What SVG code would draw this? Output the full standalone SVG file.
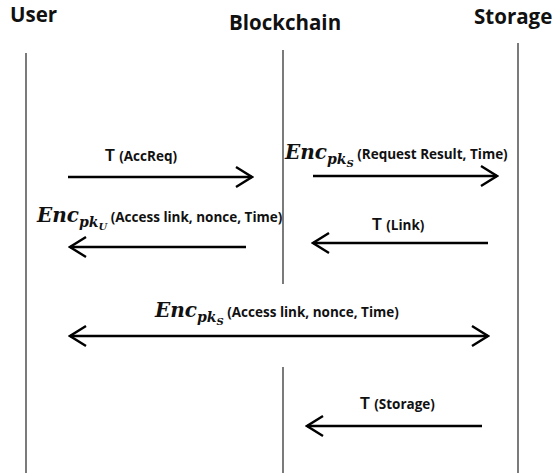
<svg xmlns="http://www.w3.org/2000/svg" width="559" height="473" viewBox="0 0 559 473">
<style>
.hd{font-family:"Open Sans","Liberation Sans",sans-serif;font-weight:bold;font-size:20.5px;fill:#111}
.lf{stroke:#333;stroke-width:1.3;fill:none}
.ar{stroke:#000;stroke-width:2.4;fill:none}
.t{font-family:"Liberation Sans",sans-serif;font-weight:bold;font-size:16px;fill:#111}
.s{font-family:"Open Sans","Liberation Sans",sans-serif;font-weight:bold;font-size:13.5px;fill:#111}
.e{font-family:"DejaVu Serif",serif;font-weight:bold;font-style:italic;font-size:20px;fill:#111}
.sb{font-size:14px}
.ss{font-size:10px}
</style>
<defs>
<marker id="h" viewBox="0 0 20 24" refX="18" refY="12" markerWidth="20" markerHeight="24" markerUnits="userSpaceOnUse" orient="auto-start-reverse">
<path d="M2,2 L18,12 L2,22" fill="none" stroke="#000" stroke-width="2.4"/>
</marker>
</defs>
<g id="user"><text class="hd" x="10" y="22">User</text><line class="lf" x1="26" y1="53" x2="26" y2="473"/></g>
<g id="blockchain"><text class="hd" x="229" y="30">Blockchain</text><line class="lf" x1="283" y1="50" x2="283" y2="284"/><line class="lf" x1="283" y1="367" x2="283" y2="473"/></g>
<g id="storage"><text class="hd" x="474" y="24">Storage</text><line class="lf" x1="518" y1="43" x2="518" y2="473"/></g>
<g id="connectors">
<line class="ar" x1="68" y1="177" x2="252" y2="177" marker-end="url(#h)"/>
<text x="105" y="161"><tspan class="t">T </tspan><tspan class="s">(AccReq)</tspan></text>
<line class="ar" x1="313" y1="176" x2="497" y2="176" marker-end="url(#h)"/>
<text x="285" y="159"><tspan class="e">Enc</tspan><tspan class="e sb" dy="5">pk</tspan><tspan class="e ss" dy="3">S</tspan><tspan class="s" dy="-8"> (Request Result, Time)</tspan></text>
<line class="ar" x1="246" y1="247" x2="70" y2="247" marker-end="url(#h)"/>
<text x="37" y="222"><tspan class="e">Enc</tspan><tspan class="e sb" dy="5">pk</tspan><tspan class="e ss" dy="3">U</tspan><tspan class="s" dy="-8"> (Access link, nonce, Time)</tspan></text>
<line class="ar" x1="488" y1="243" x2="313" y2="243" marker-end="url(#h)"/>
<text x="372" y="230"><tspan class="t">T </tspan><tspan class="s">(Link)</tspan></text>
<line class="ar" x1="70" y1="336" x2="488" y2="336" marker-start="url(#h)" marker-end="url(#h)"/>
<text x="155" y="317"><tspan class="e">Enc</tspan><tspan class="e sb" dy="5">pk</tspan><tspan class="e ss" dy="3">S</tspan><tspan class="s" dy="-8"> (Access link, nonce, Time)</tspan></text>
<line class="ar" x1="482" y1="426" x2="307" y2="426" marker-end="url(#h)"/>
<text x="360" y="409"><tspan class="t">T </tspan><tspan class="s">(Storage)</tspan></text>
</g>
</svg>
